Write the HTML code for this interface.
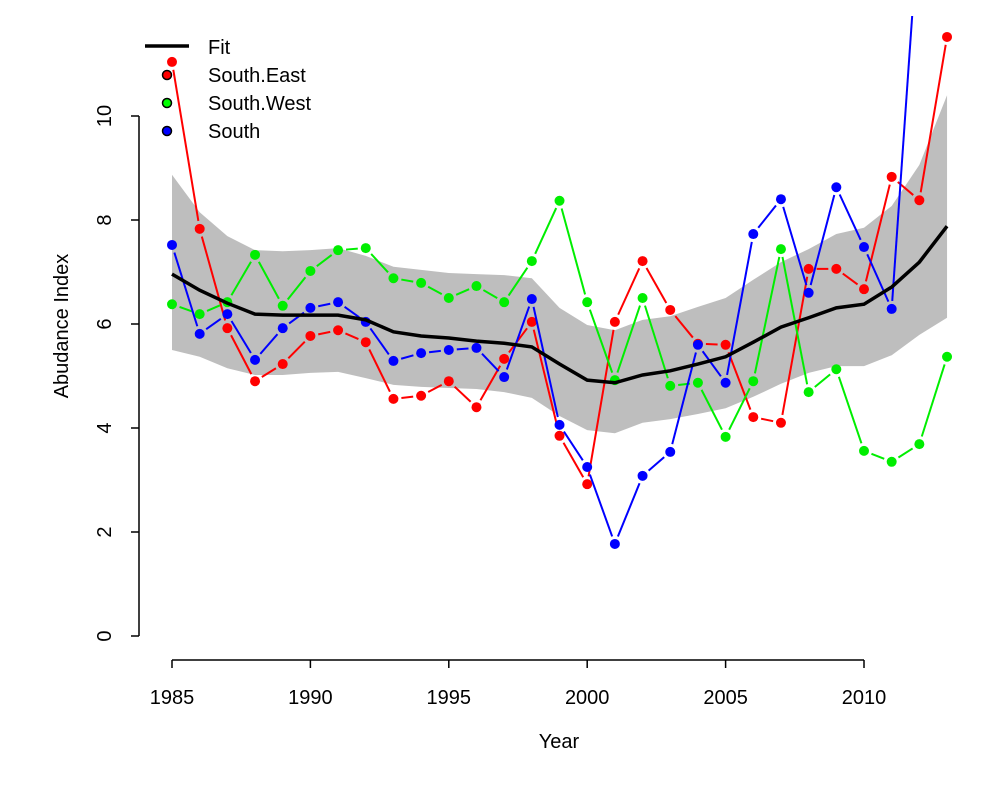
<!DOCTYPE html>
<html><head><meta charset="utf-8"><style>
body{margin:0;background:#fff}
svg text{font-family:"Liberation Sans",Arial,sans-serif}
</style></head><body>
<svg id="chart" width="1000" height="800" xmlns="http://www.w3.org/2000/svg">
<defs><clipPath id="plotclip"><rect x="139" y="16" width="840" height="644"/></clipPath></defs>
<g id="band" clip-path="url(#plotclip)"></g>
<g id="series" clip-path="url(#plotclip)"></g>
<g id="axes"></g>
<g>
<line x1="145" y1="46" x2="189" y2="46" stroke="#000" stroke-width="3.5"/>
<text x="208" y="54" font-size="20">Fit</text>
<circle cx="167" cy="75" r="4.5" fill="red" stroke="#000" stroke-width="1.5"/>
<text x="208" y="82" font-size="20">South.East</text>
<circle cx="167" cy="103" r="4.5" fill="#0f0" stroke="#000" stroke-width="1.5"/>
<text x="208" y="110" font-size="20">South.West</text>
<circle cx="167" cy="131" r="4.5" fill="blue" stroke="#000" stroke-width="1.5"/>
<text x="208" y="138" font-size="20">South</text>
</g>
<text x="559" y="748" font-size="20" text-anchor="middle">Year</text>
<text transform="translate(68,326) rotate(-90)" font-size="20" text-anchor="middle">Abudance Index</text>
</svg>
<script>
const years=[1985,1986,1987,1988,1989,1990,1991,1992,1993,1994,1995,1996,1997,1998,1999,2000,2001,2002,2003,2004,2005,2006,2007,2008,2009,2010,2011,2012,2013];
const southEast=[11.04,7.83,5.92,4.90,5.23,5.77,5.88,5.65,4.56,4.62,4.90,4.40,5.33,6.04,3.85,2.92,6.04,7.21,6.27,5.62,5.60,4.21,4.10,7.06,7.06,6.67,8.83,8.38,11.52];
const southWest=[6.38,6.19,6.42,7.33,6.35,7.02,7.42,7.46,6.88,6.79,6.50,6.73,6.42,7.21,8.37,6.42,4.92,6.50,4.81,4.87,3.83,4.90,7.44,4.69,5.13,3.56,3.35,3.69,5.37];
const south=[7.52,5.81,6.19,5.31,5.92,6.31,6.42,6.04,5.29,5.44,5.50,5.54,4.98,6.48,4.06,3.25,1.77,3.08,3.54,5.60,4.87,7.73,8.40,6.60,8.63,7.48,6.29,13.9,13.0];
const fit=[6.96,6.65,6.40,6.19,6.17,6.17,6.17,6.08,5.85,5.77,5.73,5.67,5.63,5.56,5.23,4.92,4.87,5.02,5.10,5.23,5.37,5.65,5.94,6.12,6.31,6.38,6.71,7.19,7.88];
const upper=[8.87,8.15,7.69,7.42,7.40,7.42,7.46,7.31,7.10,7.04,6.98,6.96,6.94,6.88,6.31,5.98,5.88,6.08,6.15,6.33,6.50,6.85,7.19,7.44,7.73,7.85,8.27,9.06,10.4];
const lower=[5.5,5.37,5.15,5.02,5.02,5.06,5.08,4.96,4.83,4.79,4.77,4.75,4.69,4.58,4.23,3.96,3.90,4.10,4.17,4.27,4.38,4.60,4.85,5.06,5.19,5.19,5.40,5.79,6.12];
const xTicks=[1985,1990,1995,2000,2005,2010];
const yTicks=[0,2,4,6,8,10];
const NS='http://www.w3.org/2000/svg';
const X=v=>172+(v-1985)*(864-172)/25;
const Y=v=>636-v*52;
function mk(tag,attrs,parent){const e=document.createElementNS(NS,tag);for(const k in attrs)e.setAttribute(k,attrs[k]);parent.appendChild(e);return e;}
const band=document.getElementById('band'),ser=document.getElementById('series'),ax=document.getElementById('axes');
let pts=years.map((y,i)=>X(y)+','+Y(upper[i]));
for(let i=years.length-1;i>=0;i--)pts.push(X(years[i])+','+Y(lower[i]));
const poly=mk('polygon',{points:pts.join(' '),fill:'#bebebe'},band);


function drawSeries(vals,color,name){
  const g=mk('g',{},ser);
  
  
  for(let i=0;i<vals.length-1;i++){
    const x1=X(years[i]),y1=Y(vals[i]),x2=X(years[i+1]),y2=Y(vals[i+1]);
    const dx=x2-x1,dy=y2-y1,L=Math.hypot(dx,dy),g0=8;
    if(L<2*g0)continue;
    mk('line',{x1:x1+dx*g0/L,y1:y1+dy*g0/L,x2:x2-dx*g0/L,y2:y2-dy*g0/L,stroke:color,'stroke-width':2},g);
  }
  vals.forEach((v,i)=>{
    const c=mk('circle',{cx:X(years[i]),cy:Y(v),r:5,fill:color},g);
    
    
  });
}
drawSeries(southEast,'red','south-east');
drawSeries(southWest,'#00ee00','south-west');
drawSeries(south,'blue','south');
const fl=mk('polyline',{points:years.map((y,i)=>X(y)+','+Y(fit[i])).join(' '),fill:'none',stroke:'#000','stroke-width':3.5},ser);


// axes
const xa=mk('line',{x1:X(1985),y1:660,x2:X(2010),y2:660,stroke:'#000','stroke-width':1.5},ax);


xTicks.forEach(t=>{
  mk('line',{x1:X(t),y1:660,x2:X(t),y2:668,stroke:'#000','stroke-width':1.5},ax);
  const tx=mk('text',{x:X(t),y:704,'font-size':20,'text-anchor':'middle'},ax);tx.textContent=t;
  
  
});
const ya=mk('line',{x1:139,y1:Y(0),x2:139,y2:Y(10),stroke:'#000','stroke-width':1.5},ax);


yTicks.forEach(t=>{
  mk('line',{x1:131,y1:Y(t),x2:139,y2:Y(t),stroke:'#000','stroke-width':1.5},ax);
  const tx=mk('text',{transform:`translate(111,${Y(t)}) rotate(-90)`,'font-size':20,'text-anchor':'middle'},ax);tx.textContent=t;
  
  
});
</script>
</body></html>
